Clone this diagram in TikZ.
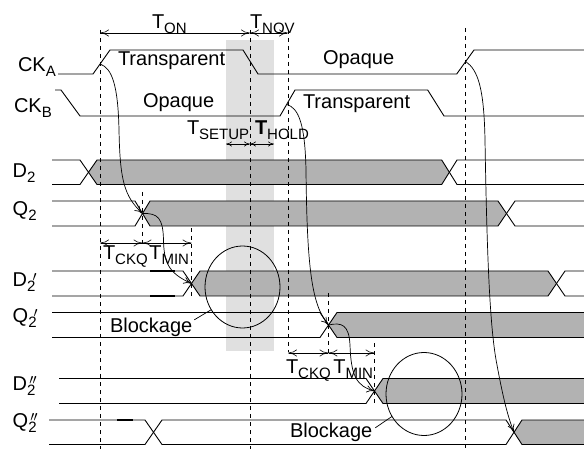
\documentclass[tikz,border=0pt]{standalone}
\usepackage{fontspec}
\setmainfont{Liberation Sans}
\usetikzlibrary{arrows.meta,shapes.geometric}
\newcommand\sbs[1]{\raisebox{-5pt}{\fontsize{15}{15}\selectfont #1}}
\newcommand\sbp[2]{\rlap{\raisebox{-5pt}{\fontsize{15}{15}\selectfont #1}}\raisebox{5.5pt}{\fontsize{15}{15}\selectfont\phantom{#1}\llap{$#2$\hspace{-1pt}}}}
% bus with grey between two transitions
\newcommand\busseg[8]{%
 \fill[busfill] ({(#4+#5)/2},{(#1+#2)/2}) -- (#5,#1) -- (#6,#1) -- ({(#6+#7)/2},{(#1+#2)/2}) -- (#6,#2) -- (#5,#2) -- cycle;
 \draw[wave] (#3,#1) -- (#4,#1) -- (#5,#2) -- (#6,#2) -- (#7,#1) -- (#8,#1);
 \draw[wave] (#3,#2) -- (#4,#2) -- (#5,#1) -- (#6,#1) -- (#7,#2) -- (#8,#2);}
% bus with grey from one transition to the end
\newcommand\busopen[6]{%
 \fill[busfill] ({(#4+#5)/2},{(#1+#2)/2}) -- (#5,#1) -- (#6,#1) -- (#6,#2) -- (#5,#2) -- cycle;
 \draw[wave] (#3,#1) -- (#4,#1) -- (#5,#2) -- (#6,#2);
 \draw[wave] (#3,#2) -- (#4,#2) -- (#5,#1) -- (#6,#1);}
\begin{document}
\begin{tikzpicture}[x=1pt,y=-1pt,
  every node/.style={inner sep=0pt,outer sep=0pt,font=\fontsize{20}{24}\selectfont},
  lbl/.style={anchor=base west},
  wave/.style={line width=0.9pt,line join=miter},
  busfill/.style={fill=black!30},
  band/.style={fill=black!12},
  guide/.style={line width=0.8pt,dash pattern=on 4pt off 4pt},
  dim/.style={line width=0.6pt,{To[length=9pt,width=7pt]}-{To[length=9pt,width=7pt]}},
  sdim/.style={line width=0.6pt,{To[length=6pt,width=5pt]}-{To[length=6pt,width=5pt]}},
  cause/.style={line width=0.7pt,-{To[length=8pt,width=7pt]}},
  thick seg/.style={line width=1.8pt},
  blk/.style={draw,ellipse,line width=0.8pt,inner sep=0pt}]
\useasboundingbox (0,0) rectangle (584,449);

% light band (setup/hold window)
\fill[band] (226,40) rectangle (274,351);

% bus fills and lines
\busseg{160}{184.5}{52}{80}{97}{441.7}{457}{584}
\busseg{201}{226}{52}{135}{150}{498}{515}{584}
\busseg{271}{296}{52}{183}{200}{548}{565}{584}
\busopen{312.5}{337.5}{52}{320}{337}{584}
\busopen{378.5}{403.5}{59}{366}{383}{584}
% Q2''
\fill[busfill] (514,432.25) -- (522,420) -- (584,420) -- (584,444.5) -- (522,444.5) -- cycle;
\draw[wave] (49,420) -- (145,420) -- (162,444.5) -- (506,444.5) -- (522,420) -- (584,420);
\draw[wave] (49,444.5) -- (145,444.5) -- (162,420) -- (506,420) -- (522,444.5) -- (584,444.5);
\draw[thick seg] (150,271) -- (175,271) (150,296) -- (175,296);
\draw[thick seg] (117,420) -- (133,420) (117,444.5) -- (133,444.5);

% clocks
\draw[wave] (58,74) -- (93,74) -- (110,50) -- (243,50) -- (258,74) -- (456.7,74) -- (474,50) -- (584,50);
\draw[wave] (55,90) -- (61,90) -- (80,116) -- (280,116) -- (295,90) -- (427.7,90) -- (444,116) -- (584,116);

% guides
\draw[guide] (100,30) -- (100,449);
\draw[guide] (250,30) -- (250,449);
\draw[guide] (288,30) -- (288,352);
\draw[guide] (465,28) -- (465,449);
\draw[guide] (142.5,192) -- (142.5,247);
\draw[guide] (191.5,228) -- (191.5,296);
\draw[guide] (328.5,293) -- (328.5,356);
\draw[guide] (374.5,343) -- (374.5,404);

% signal labels
\node[lbl] (lcka) at (18,72) {CK\sbs{A}};
\node[lbl] (lckb) at (14,113) {CK\sbs{B}};
\node[lbl] (ld2) at (12.7,178) {D\sbs{2}};
\node[lbl] (lq2) at (12.7,216) {Q\sbs{2}};
\node[lbl] (ld2p) at (12.7,287) {D\sbp{2}{\prime}};
\node[lbl] (lq2p) at (12.7,323) {Q\sbp{2}{\prime}};
\node[lbl] (ld2pp) at (12.7,390) {D\sbp{2}{\prime\mkern-1mu\prime}};
\node[lbl] (lq2pp) at (12.7,427) {Q\sbp{2}{\prime\mkern-1mu\prime}};

% state labels
\node[lbl] (tr1) at (118,66) {Transparent};
\node[lbl] (op1) at (323,65) {Opaque};
\node[lbl] (op2) at (143,108) {Opaque};
\node[lbl] (tr2) at (303,109) {Transparent};

% timing labels
\node[lbl] (ton) at (152,29) {T\sbs{ON}};
\node[lbl] (tnov) at (250,29) {T\sbs{NOV}};
\node[lbl] (tsu) at (187,135) {T\sbs{SETUP}};
\node[lbl] (tho) at (255,135) {\textbf{T}\sbs{HOLD}};
\node[lbl] (tckq1) at (103,260) {T\sbs{CKQ}};
\node[lbl] (tmin1) at (149.3,260) {T\sbs{MIN}};
\node[lbl] (tckq2) at (286,373) {T\sbs{CKQ}};
\node[lbl] (tmin2) at (333.3,373) {T\sbs{MIN}};

% dimension arrows
\coordinate (on0) at (100,33); \coordinate (on1) at (250,33); \coordinate (nov1) at (288,33);
\draw[dim] (on0) -- (on1);
\draw[dim] (on1) -- (nov1);
\coordinate (su0) at (226,144); \coordinate (su1) at (250,144); \coordinate (ho1) at (274,144);
\draw[sdim] (su0) -- (su1);
\draw[sdim] (su1) -- (ho1);
\coordinate (ck0) at (100,243); \coordinate (ck1) at (142.5,243); \coordinate (mn1) at (191.5,243);
\draw[dim] (ck0) -- (ck1);
\draw[dim] (ck1) -- (mn1);
\coordinate (ckb0) at (288,353); \coordinate (ckb1) at (328.5,353); \coordinate (mnb1) at (374.5,353);
\draw[dim] (ckb0) -- (ckb1);
\draw[dim] (ckb1) -- (mnb1);

% blockage
\node[blk,minimum width=75pt,minimum height=82pt] (e1) at (242.5,287) {};
\node[blk,minimum width=76pt,minimum height=83pt] (e2) at (424,394) {};
\node[lbl] (bl1) at (110,332) {Blockage};
\node[lbl] (bl2) at (290,437) {Blockage};
\draw[line width=0.7pt] ([shift={(2,-7)}]bl1.east) -- (e1.216);
\draw[line width=0.7pt] ([shift={(3,-4)}]bl2.east) -- (e2.215);

% causality curves
\coordinate (A1) at (100,64);
\coordinate (Q2X) at (142.5,213.5);
\coordinate (D2pX) at (191.5,283.5);
\coordinate (B1) at (286.7,104.4);
\coordinate (Q2pX) at (328.5,325);
\coordinate (D2ppX) at (374.5,391);
\coordinate (A2) at (465.7,61.5);
\coordinate (Q2ppX) at (514,432.25);
\draw[cause] (A1) .. controls (112,68) and (118,85) .. (119,130) .. controls (120,180) and (124,196) .. (Q2X);
\draw[cause] (Q2X) .. controls (158,213) and (163,218) .. (163.5,240) .. controls (164,262) and (168,273) .. (D2pX);
\draw[cause] (B1) .. controls (299,108) and (305,125) .. (306,170) .. controls (307,270) and (312,305) .. (Q2pX);
\draw[cause] (Q2pX) .. controls (342,322) and (349,325) .. (350,345) .. controls (351,375) and (356,386) .. (D2ppX);
\draw[cause] (A2) .. controls (478,70) and (484,88) .. (485,140) .. controls (487,260) and (490,330) .. (497,365) .. controls (502,392) and (507,415) .. (Q2ppX);
\end{tikzpicture}
\end{document}
